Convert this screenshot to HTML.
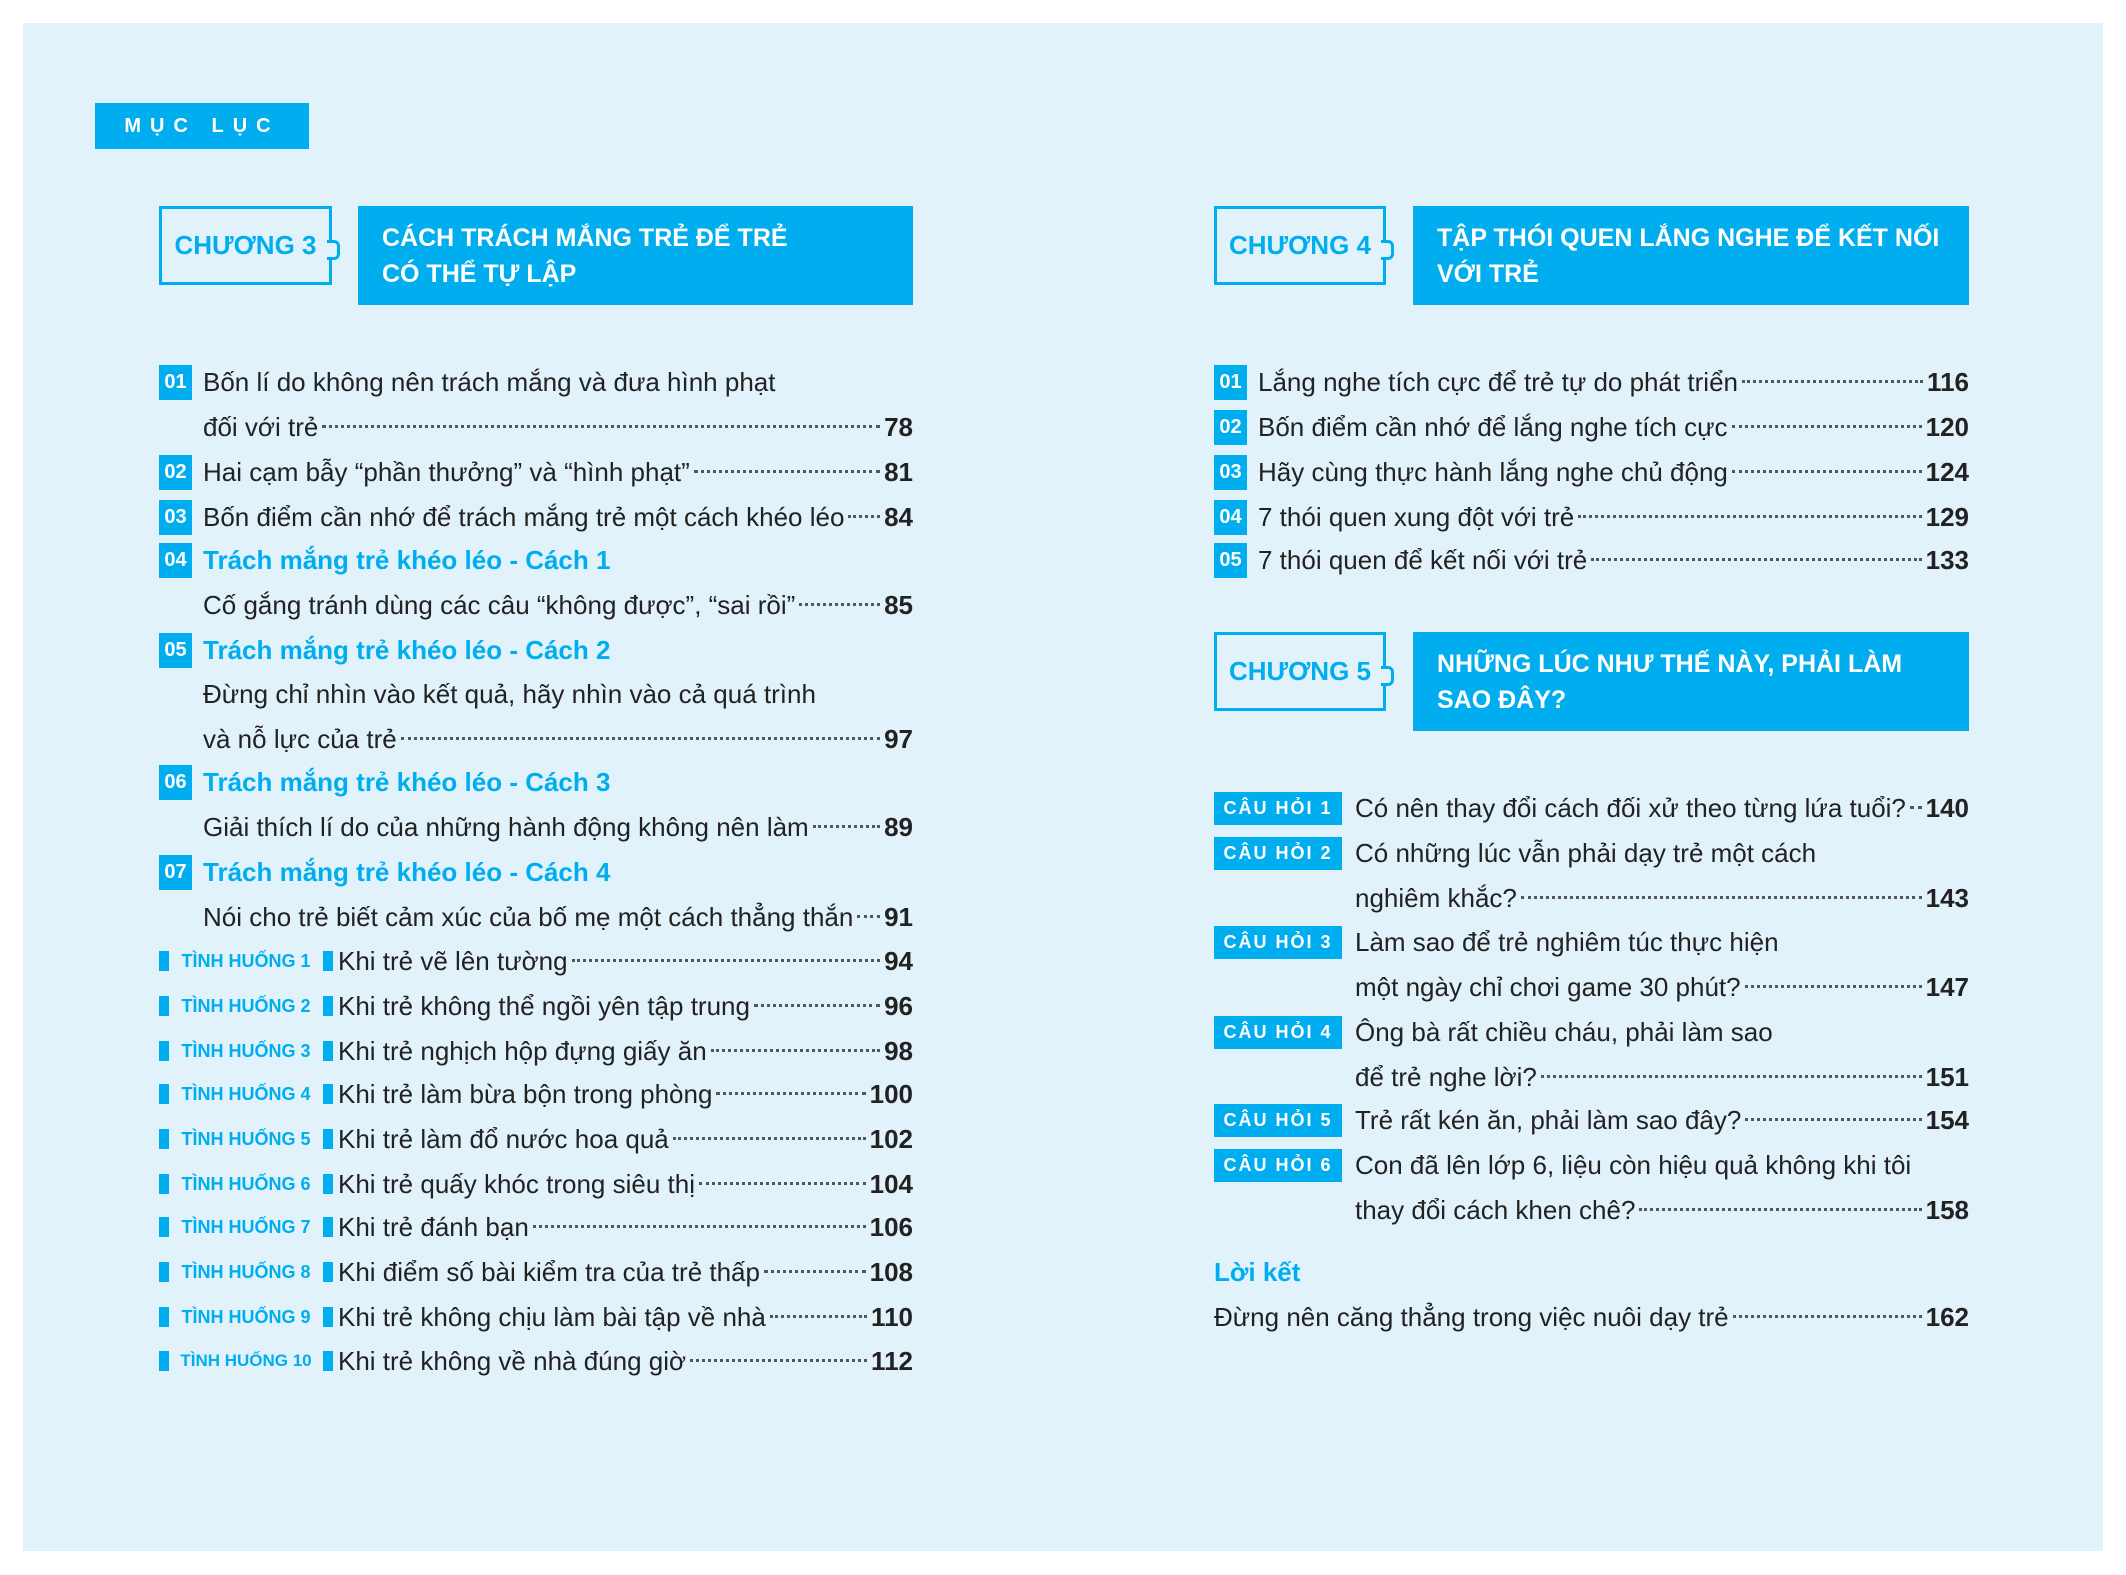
<!DOCTYPE html>
<html><head><meta charset="utf-8"><style>
*{margin:0;padding:0;box-sizing:border-box}
body{width:2126px;height:1575px;background:#fff;position:relative;overflow:hidden;font-family:"Liberation Sans",sans-serif;color:#222}
.bg{position:absolute;left:23px;top:23px;width:2080px;height:1528px;background:#e1f2fb}
.blue{background:#00aeef}
.abs{position:absolute}
.row{position:absolute;height:40px;line-height:40px;font-size:26px;display:flex;align-items:baseline;white-space:nowrap}
.lead{flex:1;border-bottom:3px dotted #555;margin:0 4px;transform:translateY(-8px);height:1px}
.pg{font-weight:bold}
.num{position:absolute;width:33px;height:35px;background:#00aeef;color:#fff;font-weight:bold;font-size:20px;line-height:35px;text-align:center}
.sub{color:#00aeef;font-weight:bold}
.th{position:absolute;width:174px;height:22px;line-height:22px;font-size:18px;font-weight:bold;color:#00aeef;white-space:nowrap;display:flex;justify-content:space-between;align-items:center}
.th i{display:inline-block;width:10px;height:20px;background:#00aeef}
.ch{position:absolute;border:3px solid #00aeef;color:#00aeef;font-weight:bold;font-size:26px;display:flex;align-items:center;justify-content:center}
.tt{position:absolute;background:#00aeef;color:#fff;font-weight:bold;font-size:25px;line-height:36px;padding-left:24px;display:flex;flex-direction:column;justify-content:center}
.ch:after{content:"";position:absolute;right:-11px;top:42%;width:10px;height:14px;border:3px solid #00aeef;border-left:none;background:#e1f2fb;border-radius:0 6px 6px 0}
.q{position:absolute;width:128px;height:33px;background:#00aeef;color:#fff;font-weight:bold;font-size:18px;line-height:33px;text-align:center;letter-spacing:2px}
</style></head><body>
<div class="bg"></div>
<div class="abs blue" style="left:95px;top:103px;width:214px;height:46px;color:#fff;font-weight:bold;font-size:20px;line-height:46px;letter-spacing:9px;text-align:center">MỤC LỤC</div>

<div class="ch" style="left:159px;top:206px;width:173px;height:79px">CHƯƠNG 3</div>
<div class="tt" style="left:358px;top:206px;width:555px;height:99px"><div>CÁCH TRÁCH MẮNG TRẺ ĐỂ TRẺ</div><div>CÓ THỂ TỰ LẬP</div></div>

<div class="num" style="left:159px;top:365px">01</div>
<div class="row" style="left:203px;top:362px;width:710px">Bốn lí do không nên trách mắng và đưa hình phạt</div>
<div class="row" style="left:203px;top:407px;width:710px">đối với trẻ<span class="lead"></span><span class="pg">78</span></div>
<div class="num" style="left:159px;top:455px">02</div>
<div class="row" style="left:203px;top:452px;width:710px">Hai cạm bẫy “phần thưởng” và “hình phạt”<span class="lead"></span><span class="pg">81</span></div>
<div class="num" style="left:159px;top:500px">03</div>
<div class="row" style="left:203px;top:497px;width:710px">Bốn điểm cần nhớ để trách mắng trẻ một cách khéo léo<span class="lead"></span><span class="pg">84</span></div>
<div class="num" style="left:159px;top:543px">04</div>
<div class="row sub" style="left:203px;top:540px;width:710px">Trách mắng trẻ khéo léo - Cách 1</div>
<div class="row" style="left:203px;top:585px;width:710px">Cố gắng tránh dùng các câu “không được”, “sai rồi”<span class="lead"></span><span class="pg">85</span></div>
<div class="num" style="left:159px;top:633px">05</div>
<div class="row sub" style="left:203px;top:630px;width:710px">Trách mắng trẻ khéo léo - Cách 2</div>
<div class="row" style="left:203px;top:674px;width:710px">Đừng chỉ nhìn vào kết quả, hãy nhìn vào cả quá trình</div>
<div class="row" style="left:203px;top:719px;width:710px">và nỗ lực của trẻ<span class="lead"></span><span class="pg">97</span></div>
<div class="num" style="left:159px;top:765px">06</div>
<div class="row sub" style="left:203px;top:762px;width:710px">Trách mắng trẻ khéo léo - Cách 3</div>
<div class="row" style="left:203px;top:807px;width:710px">Giải thích lí do của những hành động không nên làm<span class="lead"></span><span class="pg">89</span></div>
<div class="num" style="left:159px;top:855px">07</div>
<div class="row sub" style="left:203px;top:852px;width:710px">Trách mắng trẻ khéo léo - Cách 4</div>
<div class="row" style="left:203px;top:897px;width:710px">Nói cho trẻ biết cảm xúc của bố mẹ một cách thẳng thắn<span class="lead"></span><span class="pg">91</span></div>

<div class="th" style="left:159px;top:950px"><i></i>TÌNH HUỐNG 1<i></i></div>
<div class="row" style="left:338px;top:941px;width:575px">Khi trẻ vẽ lên tường<span class="lead"></span><span class="pg">94</span></div>
<div class="th" style="left:159px;top:995px"><i></i>TÌNH HUỐNG 2<i></i></div>
<div class="row" style="left:338px;top:986px;width:575px">Khi trẻ không thể ngồi yên tập trung<span class="lead"></span><span class="pg">96</span></div>
<div class="th" style="left:159px;top:1040px"><i></i>TÌNH HUỐNG 3<i></i></div>
<div class="row" style="left:338px;top:1031px;width:575px">Khi trẻ nghịch hộp đựng giấy ăn<span class="lead"></span><span class="pg">98</span></div>
<div class="th" style="left:159px;top:1083px"><i></i>TÌNH HUỐNG 4<i></i></div>
<div class="row" style="left:338px;top:1074px;width:575px">Khi trẻ làm bừa bộn trong phòng<span class="lead"></span><span class="pg">100</span></div>
<div class="th" style="left:159px;top:1128px"><i></i>TÌNH HUỐNG 5<i></i></div>
<div class="row" style="left:338px;top:1119px;width:575px">Khi trẻ làm đổ nước hoa quả<span class="lead"></span><span class="pg">102</span></div>
<div class="th" style="left:159px;top:1173px"><i></i>TÌNH HUỐNG 6<i></i></div>
<div class="row" style="left:338px;top:1164px;width:575px">Khi trẻ quấy khóc trong siêu thị<span class="lead"></span><span class="pg">104</span></div>
<div class="th" style="left:159px;top:1216px"><i></i>TÌNH HUỐNG 7<i></i></div>
<div class="row" style="left:338px;top:1207px;width:575px">Khi trẻ đánh bạn<span class="lead"></span><span class="pg">106</span></div>
<div class="th" style="left:159px;top:1261px"><i></i>TÌNH HUỐNG 8<i></i></div>
<div class="row" style="left:338px;top:1252px;width:575px">Khi điểm số bài kiểm tra của trẻ thấp<span class="lead"></span><span class="pg">108</span></div>
<div class="th" style="left:159px;top:1306px"><i></i>TÌNH HUỐNG 9<i></i></div>
<div class="row" style="left:338px;top:1297px;width:575px">Khi trẻ không chịu làm bài tập về nhà<span class="lead"></span><span class="pg">110</span></div>
<div class="th" style="left:159px;top:1350px;font-size:17px"><i></i>TÌNH HUỐNG 10<i></i></div>
<div class="row" style="left:338px;top:1341px;width:575px">Khi trẻ không về nhà đúng giờ<span class="lead"></span><span class="pg">112</span></div>

<div class="ch" style="left:1214px;top:206px;width:172px;height:79px">CHƯƠNG 4</div>
<div class="tt" style="left:1413px;top:206px;width:556px;height:99px"><div>TẬP THÓI QUEN LẮNG NGHE ĐỂ KẾT NỐI</div><div>VỚI TRẺ</div></div>

<div class="num" style="left:1214px;top:365px">01</div>
<div class="row" style="left:1258px;top:362px;width:711px">Lắng nghe tích cực để trẻ tự do phát triển<span class="lead"></span><span class="pg">116</span></div>
<div class="num" style="left:1214px;top:410px">02</div>
<div class="row" style="left:1258px;top:407px;width:711px">Bốn điểm cần nhớ để lắng nghe tích cực<span class="lead"></span><span class="pg">120</span></div>
<div class="num" style="left:1214px;top:455px">03</div>
<div class="row" style="left:1258px;top:452px;width:711px">Hãy cùng thực hành lắng nghe chủ động<span class="lead"></span><span class="pg">124</span></div>
<div class="num" style="left:1214px;top:500px">04</div>
<div class="row" style="left:1258px;top:497px;width:711px">7 thói quen xung đột với trẻ<span class="lead"></span><span class="pg">129</span></div>
<div class="num" style="left:1214px;top:543px">05</div>
<div class="row" style="left:1258px;top:540px;width:711px">7 thói quen để kết nối với trẻ<span class="lead"></span><span class="pg">133</span></div>

<div class="ch" style="left:1214px;top:632px;width:172px;height:79px">CHƯƠNG 5</div>
<div class="tt" style="left:1413px;top:632px;width:556px;height:99px"><div>NHỮNG LÚC NHƯ THẾ NÀY, PHẢI LÀM</div><div>SAO ĐÂY?</div></div>

<div class="q" style="left:1214px;top:792px">CÂU HỎI 1</div>
<div class="row" style="left:1355px;top:788px;width:614px">Có nên thay đổi cách đối xử theo từng lứa tuổi?<span class="lead"></span><span class="pg">140</span></div>
<div class="q" style="left:1214px;top:837px">CÂU HỎI 2</div>
<div class="row" style="left:1355px;top:833px;width:614px">Có những lúc vẫn phải dạy trẻ một cách</div>
<div class="row" style="left:1355px;top:878px;width:614px">nghiêm khắc?<span class="lead"></span><span class="pg">143</span></div>
<div class="q" style="left:1214px;top:926px">CÂU HỎI 3</div>
<div class="row" style="left:1355px;top:922px;width:614px">Làm sao để trẻ nghiêm túc thực hiện</div>
<div class="row" style="left:1355px;top:967px;width:614px">một ngày chỉ chơi game 30 phút?<span class="lead"></span><span class="pg">147</span></div>
<div class="q" style="left:1214px;top:1016px">CÂU HỎI 4</div>
<div class="row" style="left:1355px;top:1012px;width:614px">Ông bà rất chiều cháu, phải làm sao</div>
<div class="row" style="left:1355px;top:1057px;width:614px">để trẻ nghe lời?<span class="lead"></span><span class="pg">151</span></div>
<div class="q" style="left:1214px;top:1104px">CÂU HỎI 5</div>
<div class="row" style="left:1355px;top:1100px;width:614px">Trẻ rất kén ăn, phải làm sao đây?<span class="lead"></span><span class="pg">154</span></div>
<div class="q" style="left:1214px;top:1149px">CÂU HỎI 6</div>
<div class="row" style="left:1355px;top:1145px;width:614px">Con đã lên lớp 6, liệu còn hiệu quả không khi tôi</div>
<div class="row" style="left:1355px;top:1190px;width:614px">thay đổi cách khen chê?<span class="lead"></span><span class="pg">158</span></div>

<div class="row sub" style="left:1214px;top:1252px;width:755px">Lời kết</div>
<div class="row" style="left:1214px;top:1297px;width:755px">Đừng nên căng thẳng trong việc nuôi dạy trẻ<span class="lead"></span><span class="pg">162</span></div>
</body></html>
